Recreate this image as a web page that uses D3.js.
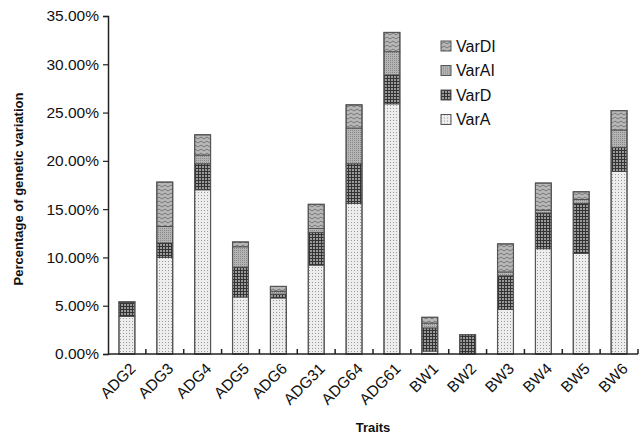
<!DOCTYPE html>
<html>
<head>
<meta charset="utf-8">
<script src="https://cdn.jsdelivr.net/npm/d3@7"></script>
<style>
  body { margin: 0; background: #fff; }
  text { font-family: "Liberation Sans", Arial, sans-serif; fill: #111; }
</style>
</head>
<body>
<svg id="chart" width="640" height="440"></svg>
<script>
// values, in percent
let traits = ["ADG2","ADG3","ADG4","ADG5","ADG6","ADG31","ADG64","ADG61","BW1","BW2","BW3","BW4","BW5","BW6"]
let varA  = [3.9, 10.0, 17.0, 5.9, 5.8, 9.2, 15.6, 25.9, 0.3, 0.05, 4.6, 10.9, 10.4, 18.9]
let varD  = [1.4, 1.5, 2.7, 3.1, 0.4, 3.4, 4.1, 3.0, 2.4, 1.95, 3.5, 3.7, 5.2, 2.5]
let varAI = [0.05, 1.7, 0.9, 2.1, 0.3, 0.4, 3.7, 2.4, 0.5, 0, 0.4, 0.3, 0.4, 1.8]
let varDI = [0.05, 4.6, 2.1, 0.5, 0.5, 2.5, 2.4, 2.0, 0.6, 0, 2.9, 2.8, 0.8, 2.0]
let yTicks = [0, 5, 10, 15, 20, 25, 30, 35]
let keys = ["VarA", "VarD", "VarAI", "VarDI"]

let svg = d3.select("#chart")
let plotLeft = 108, plotRight = 638, plotTop = 16, plotBottom = 354

let rows = traits.map((t, i) => ({trait: t, VarA: varA[i], VarD: varD[i], VarAI: varAI[i], VarDI: varDI[i]}))
let series = d3.stack().keys(keys)(rows)

let x = d3.scaleBand()
    .domain(traits)
    .range([plotLeft, plotRight])
    .paddingInner(0.58)
    .paddingOuter(0.29)

let y = d3.scaleLinear()
    .domain([0, 35])
    .range([plotBottom, plotTop])

// fill patterns for the four components
let defs = svg.append("defs")

let pA = defs.append("pattern").attr("id", "pVarA")
    .attr("width", 3).attr("height", 3).attr("patternUnits", "userSpaceOnUse")
pA.append("rect").attr("width", 3).attr("height", 3).attr("fill", "#ededed")
pA.append("rect").attr("width", 1).attr("height", 1).attr("fill", "#9a9a9a")

let pD = defs.append("pattern").attr("id", "pVarD")
    .attr("width", 3).attr("height", 3).attr("patternUnits", "userSpaceOnUse")
pD.append("rect").attr("width", 3).attr("height", 3).attr("fill", "#9a9a9a")
pD.append("rect").attr("width", 3).attr("height", 1).attr("fill", "#333")
pD.append("rect").attr("width", 1).attr("height", 3).attr("fill", "#333")

let pAI = defs.append("pattern").attr("id", "pVarAI")
    .attr("width", 2).attr("height", 2).attr("patternUnits", "userSpaceOnUse")
pAI.append("rect").attr("width", 2).attr("height", 2).attr("fill", "#b4b4b4")
pAI.append("rect").attr("width", 1).attr("height", 1).attr("fill", "#888")

let pDI = defs.append("pattern").attr("id", "pVarDI")
    .attr("width", 6).attr("height", 4).attr("patternUnits", "userSpaceOnUse")
pDI.append("rect").attr("width", 6).attr("height", 4).attr("fill", "#b8b8b8")
pDI.append("path").attr("d", "M0,3 L3,1 L6,3").attr("fill", "none")
    .attr("stroke", "#6e6e6e").attr("stroke-width", 0.9)

// bars
svg.append("g")
  .selectAll("g")
  .data(series)
  .join("g")
    .attr("fill", d => "url(#p" + d.key + ")")
  .selectAll("rect")
  .data(d => d)
  .join("rect")
    .attr("x", d => x(d.data.trait))
    .attr("y", d => y(d[1]))
    .attr("width", x.bandwidth())
    .attr("height", d => Math.max(0, y(d[0]) - y(d[1])))
    .attr("stroke", "#444")
    .attr("stroke-width", 0.8)

// bar outline
svg.append("g")
  .selectAll("rect")
  .data(series[series.length - 1])
  .join("rect")
    .attr("x", d => x(d.data.trait))
    .attr("y", d => y(d[1]))
    .attr("width", x.bandwidth())
    .attr("height", d => y(0) - y(d[1]))
    .attr("fill", "none")
    .attr("stroke", "#555")
    .attr("stroke-width", 1.2)

// y axis
let yAxis = svg.append("g")
    .attr("transform", `translate(${plotLeft},0)`)
    .call(d3.axisLeft(y).tickValues(yTicks).tickSize(5).tickPadding(4)
      .tickFormat(d => d.toFixed(2) + "%"))
yAxis.select(".domain").attr("stroke", "#222").attr("stroke-width", 1.5)
yAxis.selectAll(".tick line").attr("stroke", "#222").attr("stroke-width", 1.2)
yAxis.selectAll(".tick text").attr("font-size", 15.5).attr("font-family", "Liberation Sans, Arial, sans-serif").attr("fill", "#111")

// x axis with ticks between categories
let step = x.step()
svg.append("line")
    .attr("x1", plotLeft).attr("x2", plotRight)
    .attr("y1", plotBottom).attr("y2", plotBottom)
    .attr("stroke", "#222").attr("stroke-width", 1.5)

svg.append("g")
  .selectAll("line")
  .data(traits)
  .join("line")
    .attr("x1", d => x(d) + x.bandwidth() / 2 + step / 2)
    .attr("x2", d => x(d) + x.bandwidth() / 2 + step / 2)
    .attr("y1", plotBottom)
    .attr("y2", plotBottom - 5)
    .attr("stroke", "#222")
    .attr("stroke-width", 1.5)

svg.append("g")
  .selectAll("text")
  .data(traits)
  .join("text")
    .attr("transform", d => `translate(${x(d) + x.bandwidth() / 2 + 2},${plotBottom + 8}) rotate(-45)`)
    .attr("text-anchor", "end")
    .attr("dy", "0.7em")
    .attr("font-size", 15.5)
    .text(d => d)

// axis titles
svg.append("text")
    .attr("x", (plotLeft + plotRight) / 2)
    .attr("y", 432)
    .attr("text-anchor", "middle")
    .attr("font-size", 13)
    .attr("font-weight", "bold")
    .text("Traits")

svg.append("text")
    .attr("transform", `translate(23,${(plotTop + plotBottom) / 2 + 4}) rotate(-90)`)
    .attr("text-anchor", "middle")
    .attr("font-size", 13)
    .attr("font-weight", "bold")
    .text("Percentage of genetic variation")

// legend, top entry first
let legend = svg.append("g")
  .selectAll("g")
  .data(keys.slice().reverse())
  .join("g")
    .attr("transform", (d, i) => `translate(441,${41 + i * 24.5})`)
legend.append("rect")
    .attr("width", 10).attr("height", 10)
    .attr("fill", d => "url(#p" + d + ")")
    .attr("stroke", "#555")
legend.append("text")
    .attr("x", 15).attr("y", 10.5)
    .attr("font-size", 16)
    .text(d => d)
</script>
</body>
</html>
